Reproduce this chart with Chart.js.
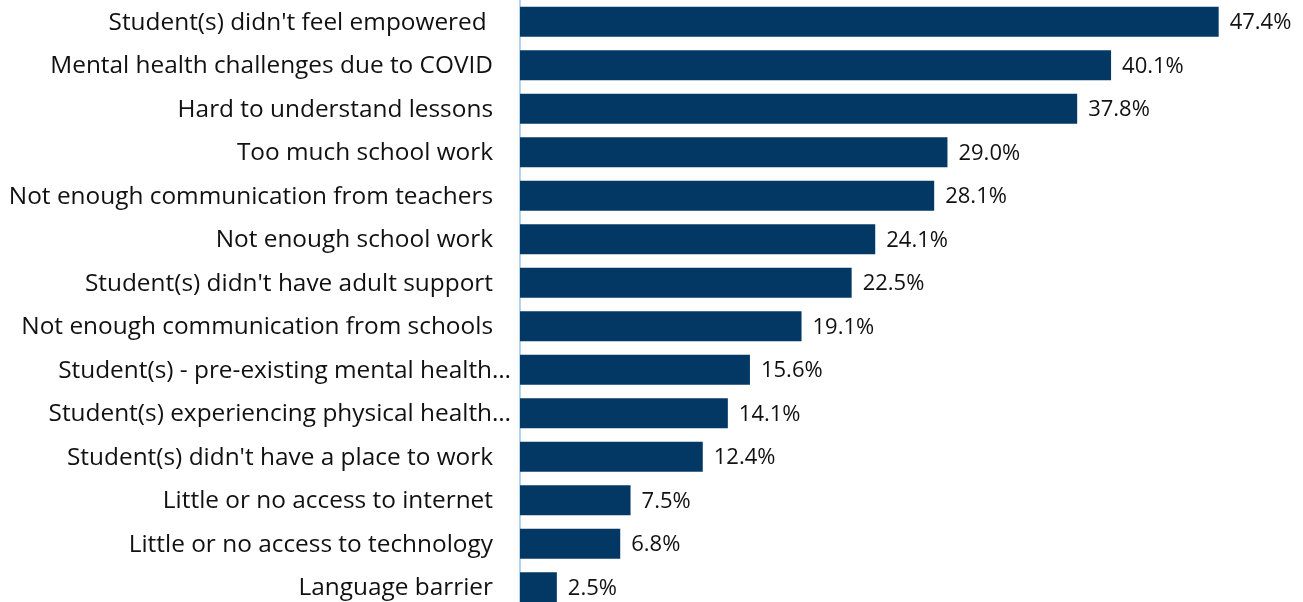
<!DOCTYPE html>
<html>
<head>
<meta charset="utf-8">
<script src="https://cdn.jsdelivr.net/npm/chart.js@4/dist/chart.umd.min.js"></script>
<style>
  html, body { margin: 0; padding: 0; background: #fff; overflow: hidden; }
  #wrap { width: 1303px; height: 609px; }
</style>
</head>
<body>
<div id="wrap"><canvas id="chart" width="1303" height="609"></canvas></div>
<script>
// Survey answers (categories) and share of respondents, in %
const categories = [
  "Student(s) didn't feel empowered ",
  "Mental health challenges due to COVID",
  "Hard to understand lessons",
  "Too much school work",
  "Not enough communication from teachers",
  "Not enough school work",
  "Student(s) didn't have adult support",
  "Not enough communication from schools",
  "Student(s) - pre-existing mental health…",
  "Student(s) experiencing physical health…",
  "Student(s) didn't have a place to work",
  "Little or no access to internet",
  "Little or no access to technology",
  "Language barrier"
];
const shares = [47.4, 40.1, 37.8, 29.0, 28.1, 24.1, 22.5, 19.1, 15.6, 14.1, 12.4, 7.5, 6.8, 2.5];

const barColor = "#033865";
const textColor = "#111111";

// Category labels drawn beside the axis, centred on each bar
const categoryLabels = {
  id: "categoryLabels",
  afterDraw(chart) {
    const { ctx, chartArea, scales } = chart;
    ctx.save();
    ctx.font = "24.4px 'Open Sans'";
    ctx.fillStyle = textColor;
    ctx.textAlign = "right";
    ctx.textBaseline = "middle";
    categories.forEach((label, i) => {
      const y = scales.y.getPixelForValue(i);
      const gap = label.endsWith("…") ? 9 : 27;
      ctx.fillText(label, chartArea.left - gap, y + 1);
    });
    ctx.restore();
  }
};

// Percent value written just past the end of each bar
const valueLabels = {
  id: "valueLabels",
  afterDatasetsDraw(chart) {
    const { ctx } = chart;
    const meta = chart.getDatasetMeta(0);
    ctx.save();
    ctx.font = "22px 'Open Sans'";
    ctx.fillStyle = textColor;
    ctx.textAlign = "left";
    ctx.textBaseline = "middle";
    meta.data.forEach((bar, i) => {
      ctx.fillText(shares[i].toFixed(1) + "%", bar.x + 11, bar.y + 1);
    });
    ctx.restore();
  }
};

new Chart(document.getElementById("chart"), {
  type: "bar",
  data: {
    labels: categories,
    datasets: [{
      data: shares,
      backgroundColor: barColor,
      borderWidth: 0,
      barPercentage: 0.69,
      categoryPercentage: 1.0
    }]
  },
  options: {
    indexAxis: "y",
    responsive: false,
    animation: false,
    layout: { padding: { top: 0, bottom: 0, left: 0, right: 46 } },
    plugins: {
      legend: { display: false },
      tooltip: { enabled: false }
    },
    scales: {
      x: {
        display: false,
        min: 0,
        max: 50,
        grid: { display: false }
      },
      y: {
        grid: { display: false, drawTicks: false },
        border: { display: true, color: "#B4D5F0", width: 2 },
        ticks: { display: false },
        afterFit: s => { s.width = 520; }
      }
    }
  },
  plugins: [categoryLabels, valueLabels]
});
</script>
</body>
</html>
